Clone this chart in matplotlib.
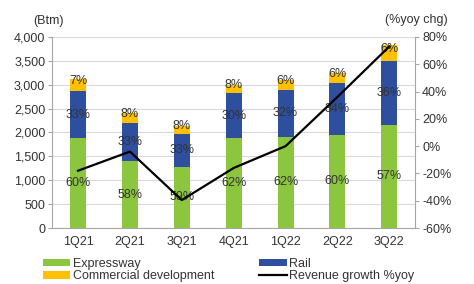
import matplotlib
matplotlib.use("Agg")
import matplotlib.pyplot as plt
from matplotlib.ticker import FuncFormatter
import numpy as np

quarters = ["1Q21", "2Q21", "3Q21", "4Q21", "1Q22", "2Q22", "3Q22"]
expressway = [1880, 1400, 1280, 1880, 1910, 1950, 2160]
rail = [990, 800, 690, 950, 980, 1090, 1340]
commercial = [250, 205, 165, 170, 210, 210, 335]
expressway_pct = ["60%", "58%", "59%", "62%", "62%", "60%", "57%"]
rail_pct = ["33%", "33%", "33%", "30%", "32%", "34%", "36%"]
commercial_pct = ["7%", "8%", "8%", "8%", "6%", "6%", "6%"]
growth = [-18, -4, -39.5, -16, 0, 36, 73]

plt.rcParams['font.family'] = ['Liberation Sans', 'DejaVu Sans']
txt = "#333333"
grid_c = "#d9d9d9"
spine_c = "#a6a6a6"
fs = 9

fig = plt.figure(figsize=(4.74, 2.84), dpi=100)
ax = fig.add_axes([0.110, 0.197, 0.766, 0.673])
x = np.arange(len(quarters))
w = 0.31
c_green, c_blue, c_yellow = "#8cc63e", "#2d4f9e", "#ffc000"
e = np.array(expressway); r = np.array(rail); c = np.array(commercial)
b1 = ax.bar(x, e, w, color=c_green, label="Expressway", zorder=2)
b2 = ax.bar(x, r, w, bottom=e, color=c_blue, label="Rail", zorder=2)
b3 = ax.bar(x, c, w, bottom=e + r, color=c_yellow, label="Commercial development", zorder=2)

for i in range(len(x)):
    ax.text(x[i], e[i] / 2, expressway_pct[i], ha="center", va="center", fontsize=fs, color=txt, zorder=5)
    ax.text(x[i], e[i] + r[i] / 2, rail_pct[i], ha="center", va="center", fontsize=fs, color=txt, zorder=5)
    ax.text(x[i], e[i] + r[i] + c[i] / 2 + 80, commercial_pct[i], ha="center", va="center", fontsize=fs, color=txt, zorder=5)

ax.set_xlim(-0.5, len(x) - 0.5)
ax.set_ylim(0, 4000)
ax.set_yticks(np.arange(0, 4001, 500))
ax.yaxis.set_major_formatter(FuncFormatter(lambda v, p: f"{int(v):,}"))
ax.set_xticks(x)
ax.set_xticklabels(quarters)
ax.grid(axis="y", color=grid_c, linewidth=0.8, zorder=0)
ax.set_axisbelow(True)
ax.tick_params(axis="y", length=3, color=spine_c, labelsize=fs, labelcolor=txt, pad=2)
ax.tick_params(axis="x", length=0, labelsize=fs, labelcolor=txt, pad=6)
for s in ["top", "right"]:
    ax.spines[s].set_visible(False)
for s in ["left", "bottom"]:
    ax.spines[s].set_color(spine_c)

ax2 = ax.twinx()
ln, = ax2.plot(x, growth, color="black", linewidth=1.6, label="Revenue growth %yoy", zorder=4)
ax2.set_ylim(-60, 80)
ax2.set_yticks(np.arange(-60, 81, 20))
ax2.yaxis.set_major_formatter(FuncFormatter(lambda v, p: f"{int(v)}%"))
ax2.tick_params(axis="y", length=3, color=spine_c, labelsize=fs, labelcolor=txt, pad=2)
for s in ["top", "left", "bottom"]:
    ax2.spines[s].set_visible(False)
ax2.spines["right"].set_color(spine_c)

fig.text(0.103, 0.925, "(Btm)", fontsize=fs, color=txt, ha="center", va="center")
fig.text(0.878, 0.93, "(%yoy chg)", fontsize=fs, color=txt, ha="center", va="center")

fig.legend([b1, b3, b2, ln], ["Expressway", "Commercial development", "Rail", "Revenue growth %yoy"],
           ncol=2, loc="lower left", bbox_to_anchor=(0.08, -0.012), frameon=False, fontsize=fs,
           handlelength=2.2, handleheight=0.55, handletextpad=0.2, columnspacing=3.6,
           labelspacing=0.05, labelcolor=txt, borderaxespad=0)

fig.savefig("out.png", dpi=100)
